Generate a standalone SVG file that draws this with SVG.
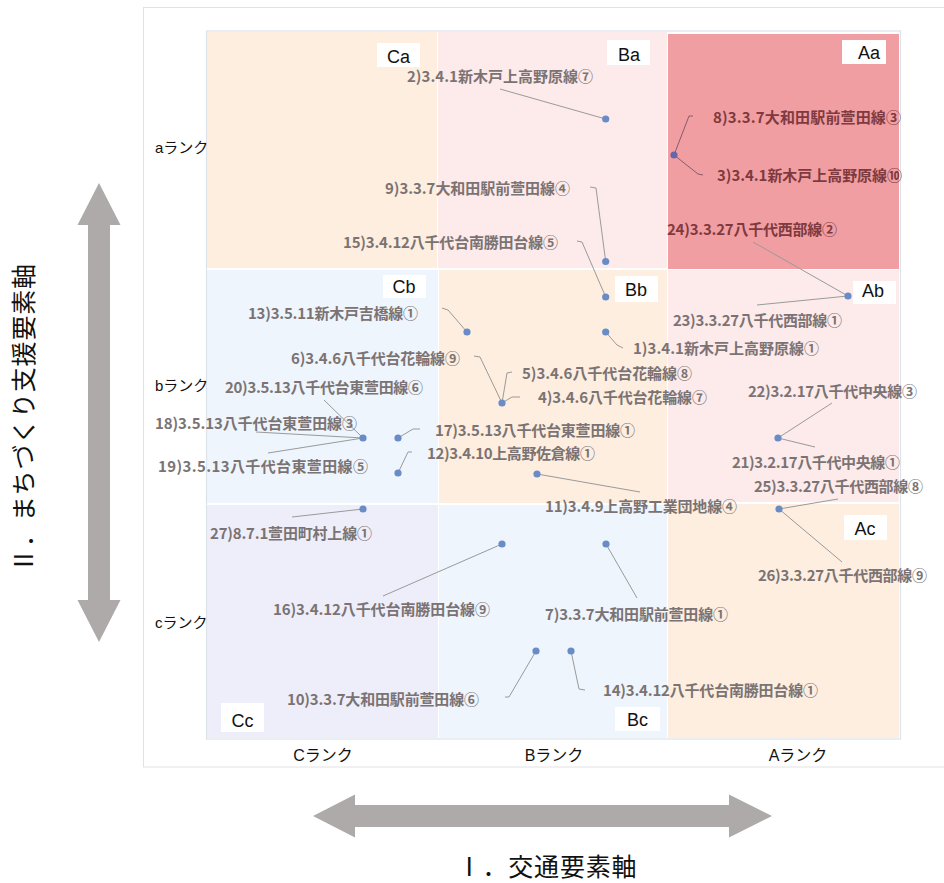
<svg xmlns="http://www.w3.org/2000/svg" width="944" height="883" viewBox="0 0 944 883">
  <style>
    .frame { fill: #ffffff; stroke: #e2e2e2; stroke-width: 1; }
    .plot { fill: none; stroke: #dde3ea; stroke-width: 1.2; }
    .peach { fill: #fdeee0; }
    .pink { fill: #fdeaea; }
    .red { fill: #f19ea3; }
    .blue { fill: #eef5fd; }
    .lav { fill: #eeeefa; }
    .tagbox { fill: #ffffff; }
    .tag { font-family: "Liberation Sans", Arial, sans-serif; font-size: 18px; fill: #111111; text-anchor: middle; }
    .rank { font-family: "Liberation Sans", "Noto Sans CJK JP", sans-serif; font-size: 15px; fill: #111111; }
    .col { text-anchor: middle; font-size: 16px; }
    .axis { font-family: "Noto Sans CJK JP", sans-serif; font-size: 25px; fill: #111111; text-anchor: middle; }
    .arrow { fill: #aeaaaa; }
    .lbl { font-family: "Noto Sans CJK JP", sans-serif; font-size: 15px; font-weight: 700; fill: #7b7373; }
    .lbl.dark { fill: #7e3a3e; }
    .dot { fill: #6a8cc6; }
    .dot.dark { fill: #6a64a8; }
    .lead { fill: none; stroke: #9a9a9a; stroke-width: 1; }
    .lead.dark { stroke: #8a5a6a; }
  </style>

  <!-- background frame -->
  <rect class="frame" x="143.5" y="7.5" width="820" height="759.5"/>

  <!-- quadrant cells -->
  <g id="cell-Ca"><rect class="peach" x="207" y="32" width="230" height="236"/><rect class="tagbox" x="377" y="43" width="43" height="24"/><text class="tag" x="398.5" y="63">Ca</text></g>
  <g id="cell-Ba"><rect class="pink" x="438" y="32" width="229" height="236"/><rect class="tagbox" x="607" y="40" width="43" height="25"/><text class="tag" x="629" y="61">Ba</text></g>
  <g id="cell-Aa"><rect class="red" x="668" y="34" width="231" height="235"/><rect class="tagbox" x="842" y="40" width="44" height="24"/><text class="tag" x="869" y="59">Aa</text></g>
  <g id="cell-Cb"><rect class="blue" x="207" y="270" width="231" height="233"/><rect class="tagbox" x="383" y="275" width="43" height="23"/><text class="tag" x="404" y="293">Cb</text></g>
  <g id="cell-Bb"><rect class="peach" x="439" y="270" width="228" height="233"/><rect class="tagbox" x="615" y="276" width="43" height="26"/><text class="tag" x="636" y="296">Bb</text></g>
  <g id="cell-Ab"><rect class="pink" x="668" y="270" width="231" height="232"/><rect class="tagbox" x="853" y="281" width="43" height="23"/><text class="tag" x="873" y="297">Ab</text></g>
  <g id="cell-Cc"><rect class="lav" x="207" y="505" width="231" height="233"/><rect class="tagbox" x="221" y="703" width="43" height="29"/><text class="tag" x="242.5" y="727">Cc</text></g>
  <g id="cell-Bc"><rect class="blue" x="439" y="505" width="228" height="233"/><rect class="tagbox" x="615" y="707" width="45" height="24"/><text class="tag" x="637.5" y="726">Bc</text></g>
  <g id="cell-Ac"><rect class="peach" x="668" y="504" width="231" height="234"/><rect class="tagbox" x="844" y="515" width="43" height="25"/><text class="tag" x="865" y="535">Ac</text></g>

  <rect class="plot" x="206.5" y="31" width="694" height="708"/>

  <!-- rank captions -->
  <g id="ranks">
    <text class="rank" x="155" y="153">aランク</text>
    <text class="rank" x="155" y="391">bランク</text>
    <text class="rank" x="155" y="628">cランク</text>
    <text class="rank col" x="323" y="761">Cランク</text>
    <text class="rank col" x="554" y="761">Bランク</text>
    <text class="rank col" x="798" y="761">Aランク</text>
  </g>

  <!-- axis arrows and titles -->
  <g id="axis-y">
    <polygon class="arrow" points="99,183 120.5,225 110,225 110,600 120.5,600 99,642 77.5,600 88,600 88,225 77.5,225"/>
    <text class="axis" transform="translate(24,418) rotate(-90)" x="0" y="9" letter-spacing="0.8">Ⅱ．まちづくり支援要素軸</text>
  </g>
  <g id="axis-x">
    <polygon class="arrow" points="313,816 355,794.5 355,805 729,805 729,794.5 772,816 729,837.5 729,827 355,827 355,837.5"/>
    <text class="axis" x="547" y="876" letter-spacing="0.8">Ⅰ．交通要素軸</text>
  </g>

  <!-- leader lines -->
  <g id="connectors">
    <polyline class="lead" points="500,89 605.7,119"/>
    <polyline class="lead dark" points="674,155 689,116 693,116"/>
    <polyline class="lead dark" points="674,155 698,174 703,175"/>
    <polyline class="lead" points="590,187 596,188 605.7,261.5"/>
    <polyline class="lead" points="753,242 848,296"/>
    <polyline class="lead" points="577,241 582,242 605.7,297"/>
    <polyline class="lead" points="442,308 448,310 467,332"/>
    <polyline class="lead" points="757,305 848,296"/>
    <polyline class="lead" points="605.7,332 617,345 623,348"/>
    <polyline class="lead" points="474,356 480,357 502,403"/>
    <polyline class="lead" points="512,372 507,373 502,403"/>
    <polyline class="lead" points="502,403 512,397 520,397"/>
    <polyline class="lead" points="324,400 363,438"/>
    <polyline class="lead" points="256,432 363,438"/>
    <polyline class="lead" points="268,453 363,438"/>
    <polyline class="lead" points="832,403 778,438"/>
    <polyline class="lead" points="778,438 815,447"/>
    <polyline class="lead" points="398,438 413,429 420,429"/>
    <polyline class="lead" points="398,473 408,452 412,452"/>
    <polyline class="lead" points="537,474 640,492"/>
    <polyline class="lead" points="838,499 779,509"/>
    <polyline class="lead" points="779,509 842,562"/>
    <polyline class="lead" points="292,517 363,509"/>
    <polyline class="lead" points="383,596 502,544"/>
    <polyline class="lead" points="606,544 637,598"/>
    <polyline class="lead" points="505,697 509,697 536,651"/>
    <polyline class="lead" points="571,651 579,689 585,690"/>
  </g>

  <!-- plotted routes -->
  <g id="pt-605-119"><circle class="dot" cx="605.7" cy="119" r="3.6"/>
    <text class="lbl" x="407" y="81.5" textLength="186" lengthAdjust="spacing">2)3.4.1新木戸上高野原線⑦</text></g>
  <g id="pt-674-155"><circle class="dot dark" cx="674" cy="155" r="3.6"/>
    <text class="lbl dark" x="713" y="122.5" textLength="188" lengthAdjust="spacing">8)3.3.7大和田駅前萱田線③</text>
    <text class="lbl dark" x="717" y="180.5" textLength="185" lengthAdjust="spacing">3)3.4.1新木戸上高野原線⑩</text></g>
  <g id="pt-605-261"><circle class="dot" cx="605.7" cy="261.5" r="3.6"/>
    <text class="lbl" x="385" y="193.5" textLength="185" lengthAdjust="spacing">9)3.3.7大和田駅前萱田線④</text></g>
  <g id="pt-605-297"><circle class="dot" cx="605.7" cy="297" r="3.6"/>
    <text class="lbl" x="343" y="247.5" textLength="215" lengthAdjust="spacing">15)3.4.12八千代台南勝田台線⑤</text></g>
  <g id="pt-848-296"><circle class="dot" cx="848" cy="296" r="3.6"/>
    <text class="lbl dark" x="667" y="234.5" textLength="170" lengthAdjust="spacing">24)3.3.27八千代西部線②</text>
    <text class="lbl" x="673" y="325.5" textLength="169" lengthAdjust="spacing">23)3.3.27八千代西部線①</text></g>
  <g id="pt-467-332"><circle class="dot" cx="467" cy="332" r="3.6"/>
    <text class="lbl" x="248" y="318.5" textLength="170" lengthAdjust="spacing">13)3.5.11新木戸吉橋線①</text></g>
  <g id="pt-605-332"><circle class="dot" cx="605.7" cy="332" r="3.6"/>
    <text class="lbl" x="633" y="354" textLength="186" lengthAdjust="spacing">1)3.4.1新木戸上高野原線①</text></g>
  <g id="pt-502-403"><circle class="dot" cx="502" cy="403" r="3.6"/>
    <text class="lbl" x="291" y="363.5" textLength="169" lengthAdjust="spacing">6)3.4.6八千代台花輪線⑨</text>
    <text class="lbl" x="522" y="378.5" textLength="170" lengthAdjust="spacing">5)3.4.6八千代台花輪線⑧</text>
    <text class="lbl" x="538" y="402.5" textLength="169" lengthAdjust="spacing">4)3.4.6八千代台花輪線⑦</text></g>
  <g id="pt-363-438"><circle class="dot" cx="363" cy="438" r="3.6"/>
    <text class="lbl" x="225" y="392.5" textLength="198" lengthAdjust="spacing">20)3.5.13八千代台東萱田線⑥</text>
    <text class="lbl" x="155" y="428.5" textLength="202" lengthAdjust="spacing">18)3.5.13八千代台東萱田線③</text>
    <text class="lbl" x="158" y="471.5" textLength="210" lengthAdjust="spacing">19)3.5.13八千代台東萱田線⑤</text></g>
  <g id="pt-398-438"><circle class="dot" cx="398" cy="438" r="3.6"/>
    <text class="lbl" x="435" y="435.5" textLength="200" lengthAdjust="spacing">17)3.5.13八千代台東萱田線①</text></g>
  <g id="pt-398-473"><circle class="dot" cx="398" cy="473" r="3.6"/>
    <text class="lbl" x="427" y="458.5" textLength="168" lengthAdjust="spacing">12)3.4.10上高野佐倉線①</text></g>
  <g id="pt-537-474"><circle class="dot" cx="537" cy="474" r="3.6"/>
    <text class="lbl" x="545" y="511.5" textLength="192" lengthAdjust="spacing">11)3.4.9上高野工業団地線④</text></g>
  <g id="pt-778-438"><circle class="dot" cx="778" cy="438" r="3.6"/>
    <text class="lbl" x="748" y="396.5" textLength="169" lengthAdjust="spacing">22)3.2.17八千代中央線③</text>
    <text class="lbl" x="732" y="467.5" textLength="168" lengthAdjust="spacing">21)3.2.17八千代中央線①</text></g>
  <g id="pt-779-509"><circle class="dot" cx="779" cy="509" r="3.6"/>
    <text class="lbl" x="754" y="491.5" textLength="169" lengthAdjust="spacing">25)3.3.27八千代西部線⑧</text>
    <text class="lbl" x="758" y="580.5" textLength="169" lengthAdjust="spacing">26)3.3.27八千代西部線⑨</text></g>
  <g id="pt-363-509"><circle class="dot" cx="363" cy="509" r="3.6"/>
    <text class="lbl" x="210" y="538.5" textLength="162" lengthAdjust="spacing">27)8.7.1萱田町村上線①</text></g>
  <g id="pt-502-544"><circle class="dot" cx="502" cy="544" r="3.6"/>
    <text class="lbl" x="273" y="614.5" textLength="217" lengthAdjust="spacing">16)3.4.12八千代台南勝田台線⑨</text></g>
  <g id="pt-606-544"><circle class="dot" cx="606" cy="544" r="3.6"/>
    <text class="lbl" x="545" y="619.5" textLength="183" lengthAdjust="spacing">7)3.3.7大和田駅前萱田線①</text></g>
  <g id="pt-536-651"><circle class="dot" cx="536" cy="651" r="3.6"/>
    <text class="lbl" x="287" y="704.5" textLength="192" lengthAdjust="spacing">10)3.3.7大和田駅前萱田線⑥</text></g>
  <g id="pt-571-651"><circle class="dot" cx="571" cy="651" r="3.6"/>
    <text class="lbl" x="603" y="695.5" textLength="215" lengthAdjust="spacing">14)3.4.12八千代台南勝田台線①</text></g>
</svg>
